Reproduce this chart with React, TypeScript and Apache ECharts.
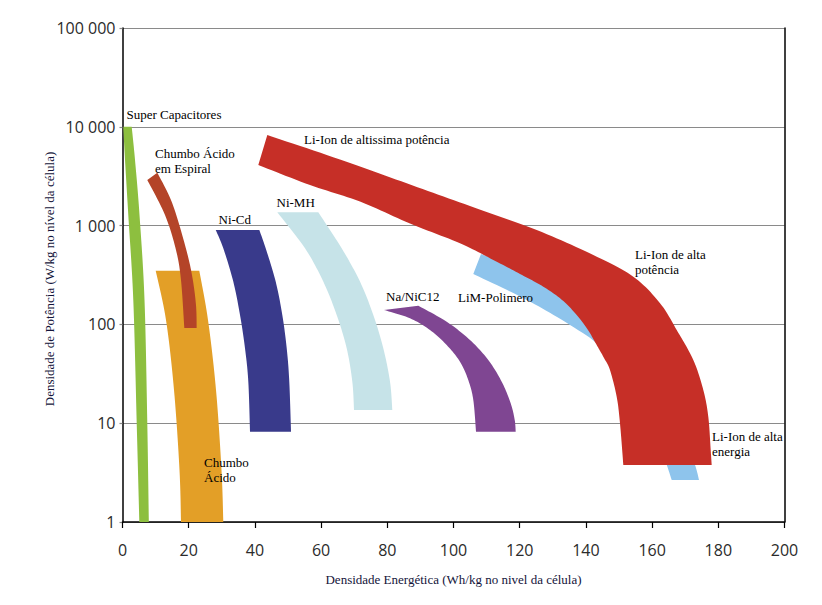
import React, { useEffect, useRef } from "react";
import * as echarts from "echarts";

// X axis: energy density (Wh/kg), Y axis: power density (W/kg, log)
const xTickValues = [0, 20, 40, 60, 80, 100, 120, 140, 160, 180, 200];
const yTickValues = [1, 10, 100, 1000, 10000, 100000];

// Band boundaries as [energy, power] pairs, top to bottom
const superCapLeft = [[0.24, 10000], [0.76, 4613], [1.75, 1280], [3.26, 177], [4.29, 10.05], [5.08, 1]];
const superCapRight = [[2.78, 10000], [3.78, 4613], [5.14, 1280], [6.65, 177], [7.49, 10.05], [7.95, 1]];

const leadAcidLeft = [[10.03, 349], [13.14, 111], [15.56, 21.7], [17.22, 3.36], [17.67, 1]];
const leadAcidRight = [[23.2, 349], [25.83, 111], [28.25, 21.7], [29.91, 3.36], [30.45, 1]];

const spiralLeadLeft = [[7.49, 2895], [12.84, 1280], [16.16, 566], [17.67, 281], [18.67, 92]];
const spiralLeadRight = [[10.51, 3434], [14.95, 1710], [18.88, 636], [21.0, 315], [22.2, 157], [22.4, 92]];

const niCdLeft = [[28.16, 902], [30.45, 589], [33.47, 271], [35.5, 124.5], [37.01, 57.3], [38.01, 26.3], [38.52, 8.2]];
const niCdRight = [[41.33, 902], [43.26, 589], [46.28, 271], [48.28, 124.5], [49.61, 57.3], [50.39, 26.3], [50.91, 8.2]];

const niMhLeft = [[46.77, 1364], [55.14, 589], [60.66, 271], [64.71, 124.5], [67.73, 57.3], [69.43, 26.3], [69.94, 13.6]];
const niMhRight = [[59.15, 1364], [66.22, 589], [71.75, 271], [75.77, 124.5], [78.79, 57.3], [80.82, 26.3], [81.51, 13.6]];

const naNiClLeft = [[79.0, 140], [86.86, 115.3], [92.9, 87.7], [97.95, 61.8], [101.96, 41.9], [104.47, 27.3], [105.98, 17.2], [106.8, 8.2]];
const naNiClRight = [[89.37, 154.6], [97.95, 106.4], [104.98, 69.5], [110.51, 43.6], [114.56, 26.3], [117.28, 15.9], [118.49, 10.8], [118.79, 8.2]];

const limPolyLeft = [[105.98, 324], [122.11, 177], [135.2, 98.6], [143.75, 61.8], [150.3, 30.8], [156.34, 15.3], [160.88, 7.6], [163.9, 4.24], [165.92, 2.66]];
const limPolyRight = [[108.31, 516], [123.41, 324], [138.52, 177], [150.3, 87.7], [159.37, 38.8], [165.41, 15.3], [169.94, 6.76], [172.96, 3.78], [174.17, 2.66]];

const liIonUpper = [[43.75, 8260], [65.71, 4667], [85.86, 2680], [104.98, 1578], [125.14, 902], [142.24, 504], [154.32, 304], [162.39, 164], [167.43, 87.7], [172.45, 43.6], [175.47, 21.7], [176.98, 11.6], [177.7, 5.36], [178.0, 3.78]];
const liIonLower = [[41.03, 4103], [56.65, 2576], [71.75, 1750], [86.86, 1050], [101.96, 662], [112.02, 449], [120.09, 324], [127.13, 241], [132.78, 177], [137.22, 124.5], [140.63, 87.7], [143.26, 61.8], [145.47, 45.7], [147.28, 34.5], [149.3, 18.5], [150.3, 9.97], [151.3, 3.78]];

const bandNames = ["Super Capacitores", "Chumbo Ácido", "Chumbo Ácido em Espiral", "Ni-Cd", "Ni-MH", "Na/NiC12", "LiM-Polimero", "Li-Ion"];
const bandEdgesA = [superCapLeft, leadAcidLeft, spiralLeadLeft, niCdLeft, niMhLeft, naNiClLeft, limPolyLeft, liIonUpper];
const bandEdgesB = [superCapRight, leadAcidRight, spiralLeadRight, niCdRight, niMhRight, naNiClRight, limPolyRight, liIonLower];

const bandColors = ["#8dbf3f", "#e39f27", "#b44428", "#393a8b", "#c6e3e8", "#7f4692", "#8ec4ec", "#c62f27"];

const annotations = [
  { text: "Super Capacitores", left: 126.5, top: 106.5 },
  { text: "Chumbo Ácido\nem Espiral", left: 155, top: 146 },
  { text: "Ni-Cd", left: 218.5, top: 212 },
  { text: "Ni-MH", left: 276.5, top: 194.5 },
  { text: "Li-Ion de altissima potência", left: 304, top: 131.5 },
  { text: "Na/NiC12", left: 386, top: 289 },
  { text: "LiM-Polimero", left: 458, top: 290 },
  { text: "Li-Ion de alta\npotência", left: 635, top: 247 },
  { text: "Li-Ion de alta\nenergia", left: 712, top: 429 },
  { text: "Chumbo\nÁcido", left: 204, top: 455 },
];

function spline(P: number[][], n = 12): number[][] {
  if (P.length < 3) return P.slice();
  const out: number[][] = [];
  for (let i = 0; i < P.length - 1; i++) {
    const p0 = P[Math.max(i - 1, 0)];
    const p1 = P[i];
    const p2 = P[i + 1];
    const p3 = P[Math.min(i + 2, P.length - 1)];
    for (let k = 0; k < n; k++) {
      const t = k / n;
      const t2 = t * t;
      const t3 = t2 * t;
      const f = (j: number) =>
        0.5 *
        (2 * p1[j] +
          (-p0[j] + p2[j]) * t +
          (2 * p0[j] - 5 * p1[j] + 4 * p2[j] - p3[j]) * t2 +
          (-p0[j] + 3 * p1[j] - 3 * p2[j] + p3[j]) * t3);
      out.push([f(0), f(1)]);
    }
  }
  out.push(P[P.length - 1]);
  return out;
}

function fmt(v: number): string {
  return String(Math.round(v)).replace(/\B(?=(\d{3})+(?!\d))/g, " ");
}

export default function App() {
  const ref = useRef<HTMLDivElement>(null);
  useEffect(() => {
    document.body.style.margin = "0";
    if (!ref.current) return;
    const chart = echarts.init(ref.current, undefined, { renderer: "svg" });
    const serif = "'Liberation Serif', 'Times New Roman', serif";
    chart.setOption({
      animation: false,
      backgroundColor: "#ffffff",
      grid: { left: 122.5, right: 37.5, top: 28, bottom: 83, containLabel: false },
      xAxis: {
        type: "value",
        min: xTickValues[0],
        max: xTickValues[xTickValues.length - 1],
        interval: 20,
        name: "Densidade Energética (Wh/kg no nivel da célula)",
        nameLocation: "middle",
        nameGap: 51,
        nameTextStyle: { fontFamily: serif, fontSize: 13, color: "#14143a" },
        axisLine: { show: true, lineStyle: { color: "#000", width: 1.5 } },
        axisTick: { show: true, length: 6, inside: false, lineStyle: { color: "#000", width: 1.2 } },
        axisLabel: { margin: 20, fontFamily: "'Open Sans', sans-serif", fontSize: 16, color: "#2b2b2b" },
        splitLine: { show: false },
      },
      yAxis: [
        {
          type: "log",
          logBase: 10,
          min: yTickValues[0],
          max: yTickValues[yTickValues.length - 1],
          name: "Densidade de Potência (W/kg no nível da célula)",
          nameLocation: "middle",
          nameGap: 67,
          nameMoveOverlap: false,
          nameTextStyle: { fontFamily: serif, fontSize: 13, color: "#14143a", padding: [0, 8, 0, 0] },
          axisLine: { show: true, lineStyle: { color: "#000", width: 1.5 } },
          axisTick: { show: true, length: 3, lineStyle: { color: "#888", width: 1.2 } },
          axisLabel: { margin: 7, fontFamily: "'Open Sans', sans-serif", fontSize: 16, color: "#2b2b2b", formatter: (v: number) => fmt(v) },
          splitLine: { show: true, lineStyle: { color: "#8a8a8a", width: 1.2 } },
        },
        {
          type: "log",
          logBase: 10,
          min: yTickValues[0],
          max: yTickValues[yTickValues.length - 1],
          position: "right",
          axisLine: { show: true, lineStyle: { color: "#000", width: 1.5 } },
          axisTick: { show: false },
          axisLabel: { show: false },
          splitLine: { show: false },
        },
      ],
      series: [
        {
          type: "custom",
          clip: true,
          silent: true,
          z: 2,
          data: bandEdgesA.map((e) => e[0]),
          encode: { x: 0, y: 1 },
          renderItem: (params: any, api: any) => {
            const i = params.dataIndex;
            const a = bandEdgesA[i].map((p) => api.coord(p));
            const b = bandEdgesB[i].map((p) => api.coord(p));
            const pts = spline(a).concat(spline(b).reverse());
            return {
              type: "polygon",
              name: bandNames[i],
              shape: { points: pts },
              style: { fill: bandColors[i], stroke: null },
            };
          },
        },
      ],
      graphic: annotations.map((a) => ({
        type: "text",
        left: a.left,
        top: a.top,
        z: 100,
        silent: true,
        style: {
          text: a.text,
          fontFamily: serif,
          fontSize: 13,
          lineHeight: 15,
          fill: "#000",
        },
      })),
    });
    return () => chart.dispose();
  }, []);
  return <div ref={ref} style={{ width: 822, height: 605 }} />;
}
